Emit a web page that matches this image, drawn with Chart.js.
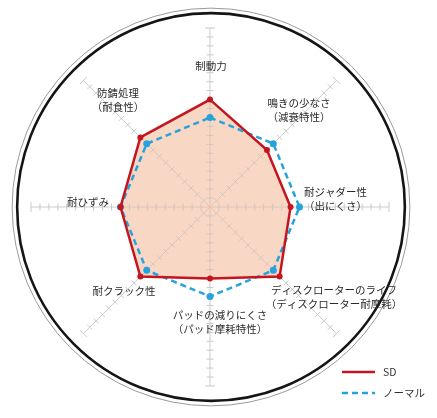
<!DOCTYPE html>
<html>
<head>
<meta charset="utf-8">
<script src="https://cdn.jsdelivr.net/npm/chart.js@4/dist/chart.umd.min.js"></script>
<style>
html,body{margin:0;padding:0;background:#fff;}
#wrap{position:relative;width:437px;height:418px;}
</style>
</head>
<body>
<div id="wrap"><canvas id="c" width="437" height="418"></canvas></div>
<script>
const categories = [
  ['制動力'],
  ['鳴きの少なさ', '（減衰特性）'],
  ['耐ジャダー性', '（出にくさ）'],
  ['ディスクローターのライフ', '（ディスクローター耐摩耗）'],
  ['パッドの減りにくさ', '（パッド摩耗特性）'],
  ['耐クラック性'],
  ['耐ひずみ'],
  ['防錆処理', '（耐食性）']
];
const seriesNames = ['SD', 'ノーマル'];
const sdValues = [12, 9, 9, 11, 8, 11, 10, 11];
const normalValues = [10, 10, 10, 10, 10, 10, 10, 10];
const scaleMax = 20;
const tickValues = Array.from({length: scaleMax}, (_, i) => i + 1);

const FONT = '"Noto Sans CJK JP", "Noto Sans", sans-serif';

// label placement relative to scale centre (px), and alignment
const labelPlace = [
  {dx: 1, dy: -141, align: 'center'},
  {dx: 89, dy: -104, align: 'center'},
  {dx: 94, dy: -15, align: 'left'},
  {dx: 124, dy: 83, align: 'center'},
  {dx: 10, dy: 108, align: 'center'},
  {dx: -86, dy: 84, align: 'center'},
  {dx: -122, dy: -5, align: 'center'},
  {dx: -92, dy: -114, align: 'center'}
];

const decor = {
  id: 'decor',
  beforeDatasetsDraw(chart) {
    const s = chart.scales.r;
    const ctx = chart.ctx;
    ctx.save();
    // outer rings
    const R = s.drawingArea * 1.083;
    ctx.beginPath();
    ctx.arc(s.xCenter + 1, s.yCenter, R + 5, 0, Math.PI * 2);
    ctx.strokeStyle = '#9a9a9a';
    ctx.lineWidth = 1;
    ctx.stroke();
    ctx.beginPath();
    ctx.arc(s.xCenter + 1, s.yCenter, R, 0, Math.PI * 2);
    ctx.strokeStyle = '#151515';
    ctx.lineWidth = 2.6;
    ctx.stroke();
    // tick marks on each axis
    ctx.strokeStyle = '#c9c9c9';
    ctx.lineWidth = 1;
    for (let i = 0; i < categories.length; i++) {
      const ang = s.getIndexAngle(i) - Math.PI / 2;
      const px = -Math.sin(ang), py = Math.cos(ang);
      tickValues.forEach(v => {
        const p = s.getPointPosition(i, s.getDistanceFromCenterForValue(v));
        const h = (v === scaleMax) ? 5 : 3.5;
        ctx.beginPath();
        ctx.moveTo(p.x - px * h, p.y - py * h);
        ctx.lineTo(p.x + px * h, p.y + py * h);
        ctx.stroke();
      });
    }
    ctx.restore();
  },
  afterDraw(chart) {
    const s = chart.scales.r;
    const ctx = chart.ctx;
    ctx.save();
    ctx.fillStyle = '#2a2a2a';
    ctx.font = '10.5px ' + FONT;
    ctx.textBaseline = 'middle';
    categories.forEach((lines, i) => {
      const pl = labelPlace[i];
      ctx.textAlign = pl.align;
      lines.forEach((t, k) => {
        ctx.fillText(t, s.xCenter + pl.dx, s.yCenter + pl.dy + k * 14);
      });
    });
    // legend
    const ds = chart.data.datasets;
    const lx = 342, ly = 372;
    ds.forEach((d, k) => {
      const y = ly + k * 21;
      ctx.beginPath();
      ctx.setLineDash(d.borderDash || []);
      ctx.strokeStyle = d.borderColor;
      ctx.lineWidth = 2.5;
      ctx.moveTo(lx, y);
      ctx.lineTo(lx + 33, y);
      ctx.stroke();
      ctx.setLineDash([]);
      ctx.fillStyle = '#333';
      ctx.textAlign = 'left';
      ctx.font = '10.5px ' + FONT;
      ctx.fillText(d.label, lx + 41, y);
    });
    ctx.restore();
  }
};

new Chart(document.getElementById('c'), {
  type: 'radar',
  data: {
    labels: categories.map(c => c.join('')),
    datasets: [
      {
        label: seriesNames[0],
        data: sdValues,
        borderColor: '#c3161f',
        backgroundColor: 'rgba(245,188,158,0.6)',
        borderWidth: 2.5,
        fill: true,
        pointRadius: 3,
        pointBackgroundColor: '#c3161f',
        pointBorderColor: '#c3161f',
        pointBorderWidth: 0,
        tension: 0
      },
      {
        label: seriesNames[1],
        data: normalValues,
        borderColor: '#25a3dc',
        backgroundColor: 'rgba(0,0,0,0)',
        borderWidth: 2.5,
        borderDash: [6, 4],
        fill: false,
        pointRadius: 3.5,
        pointBackgroundColor: '#25a3dc',
        pointBorderColor: '#25a3dc',
        pointBorderWidth: 0,
        tension: 0
      }
    ]
  },
  options: {
    responsive: false,
    animation: false,
    devicePixelRatio: 1,
    layout: {padding: {left: 31, top: 28, right: 48, bottom: 32}},
    plugins: {
      legend: {display: false},
      tooltip: {enabled: false},
      filler: {drawTime: 'beforeDatasetsDraw'}
    },
    scales: {
      r: {
        min: 0,
        max: scaleMax,
        ticks: {display: false, stepSize: 1},
        grid: {display: false},
        angleLines: {display: true, color: '#cdcdcd', lineWidth: 1},
        pointLabels: {display: false}
      }
    }
  },
  plugins: [decor]
});
</script>
</body>
</html>
